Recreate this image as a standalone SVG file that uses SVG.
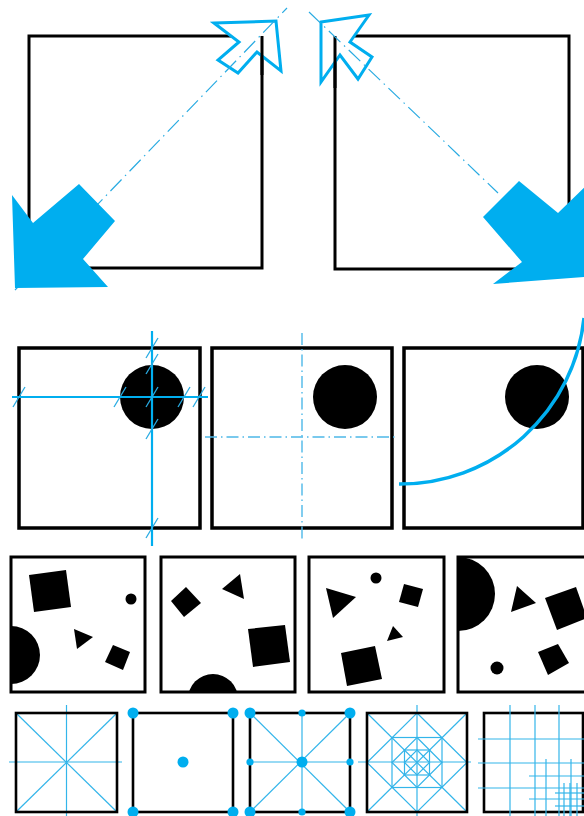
<svg xmlns="http://www.w3.org/2000/svg" width="584" height="816" viewBox="0 0 584 816">
<defs>
<style>
.sq{fill:none;stroke:#000;stroke-width:3}
.sq2{fill:none;stroke:#000;stroke-width:3.5}
.sq4{fill:none;stroke:#000;stroke-width:2.6}
.blk{fill:#000}
.bf{fill:#00AEEF}
.ol{fill:#fff;stroke:#00AEEF;stroke-width:3;stroke-linejoin:miter}
.dd{fill:none;stroke:#29ABE2;stroke-width:1.2;stroke-dasharray:16 5 1.5 5}
.dd2{fill:none;stroke:#4DB8E8;stroke-width:1.4;stroke-dasharray:12 4 1.5 4}
.bl{fill:none;stroke:#00AEEF;stroke-width:2.2}
.tk{fill:none;stroke:#29ABE2;stroke-width:1.3}
.tl{fill:none;stroke:#33B5EA;stroke-width:1.2}
.cv{fill:none;stroke:#00AEEF;stroke-width:3.5}
</style>
<clipPath id="c31"><rect x="11" y="557" width="134" height="135"/></clipPath>
<clipPath id="c32"><rect x="161" y="557" width="134" height="135"/></clipPath>
<clipPath id="c34"><rect x="458" y="557" width="134" height="135"/></clipPath>
</defs>
<rect width="584" height="816" fill="#fff"/>

<!-- Top: resize illustrations -->
<g id="top-left">
<rect class="sq" x="29" y="36" width="233" height="232"/>
<polygon class="ol" points="214,23 276,21 281,71 257,52 238,73 218,60 239,42"/>
<line x1="262" y1="36" x2="262" y2="75" stroke="#000" stroke-width="3"/>
<line class="dd" x1="15" y1="290" x2="287" y2="8"/>
<polygon class="bf" points="15,288 12,195 33,223 79,184 115,221 83,259 108,287"/>
</g>
<g id="top-right">
<rect class="sq" x="335" y="36" width="234" height="233"/>
<polygon class="ol" points="321,22 369,15 350,42 372,57 358,79 340,55 321,82"/>
<line x1="335" y1="36" x2="335" y2="88" stroke="#000" stroke-width="3"/>
<line class="dd" x1="309" y1="12" x2="498" y2="193"/>
<polygon class="bf" points="519,181 558,213 592,180 596,276 493,284 522,262 483,217"/>
</g>

<!-- Row 2 -->
<g id="r2-a">
<rect class="sq2" x="19" y="348" width="181" height="180"/>
<circle class="blk" cx="152" cy="397" r="32"/>
<line class="bl" x1="12" y1="397" x2="208" y2="397"/>
<line class="bl" x1="152" y1="331" x2="152" y2="546"/>
<g class="tk">
<line x1="13" y1="407" x2="25" y2="387"/>
<line x1="114" y1="407" x2="126" y2="387"/>
<line x1="146" y1="407" x2="158" y2="387"/>
<line x1="178" y1="407" x2="190" y2="387"/>
<line x1="193" y1="407" x2="205" y2="387"/>
<line x1="146" y1="358" x2="158" y2="338"/>
<line x1="146" y1="374" x2="158" y2="354"/>
<line x1="146" y1="439" x2="158" y2="419"/>
<line x1="146" y1="538" x2="158" y2="518"/>
</g>
</g>
<g id="r2-b">
<rect class="sq2" x="212" y="348" width="180" height="180"/>
<circle class="blk" cx="345" cy="397" r="32"/>
<line class="dd2" x1="205" y1="437" x2="398" y2="437"/>
<line class="dd2" x1="302" y1="333" x2="302" y2="539"/>
</g>
<g id="r2-c">
<rect class="sq2" x="404" y="348" width="179" height="180"/>
<circle class="blk" cx="537" cy="397" r="32"/>
<path class="cv" d="M399,484 A185,185 0 0 0 584,318"/>
</g>

<!-- Row 3 -->
<g id="r3-a">
<g clip-path="url(#c31)">
<circle class="blk" cx="11" cy="655" r="29"/>
</g>
<polygon class="blk" points="29,575 66,570 71,607 34,612"/>
<circle class="blk" cx="131" cy="599" r="5.5"/>
<polygon class="blk" points="74,629 93,637 77,649"/>
<polygon class="blk" points="113,645 130,652 123,670 105,662"/>
<rect class="sq" x="11" y="557" width="134" height="135"/>
</g>
<g id="r3-b">
<g clip-path="url(#c32)">
<circle class="blk" cx="213" cy="699" r="25"/>
</g>
<polygon class="blk" points="171,601 186,587 201,603 184,617"/>
<polygon class="blk" points="222,589 240,574 244,599"/>
<polygon class="blk" points="248,629 285,625 290,662 253,667"/>
<rect class="sq" x="161" y="557" width="134" height="135"/>
</g>
<g id="r3-c">
<circle class="blk" cx="376" cy="578" r="5.5"/>
<polygon class="blk" points="326,588 356,597 333,618"/>
<polygon class="blk" points="404,584 423,589 418,607 399,602"/>
<polygon class="blk" points="393,626 403,637 387,641"/>
<polygon class="blk" points="341,653 375,646 382,679 347,686"/>
<rect class="sq" x="309" y="557" width="135" height="135"/>
</g>
<g id="r3-d">
<g clip-path="url(#c34)">
<circle class="blk" cx="458" cy="594" r="37"/>
</g>
<polygon class="blk" points="517,586 536,603 511,612"/>
<polygon class="blk" points="545,598 576,587 587,618 557,630"/>
<polygon class="blk" points="538,652 558,644 569,663 548,675"/>
<circle class="blk" cx="497" cy="668" r="6.5"/>
<rect class="sq" x="458" y="557" width="134" height="135"/>
</g>

<!-- Row 4 -->
<g id="r4-a">
<g class="tl">
<line x1="16" y1="713" x2="117" y2="812"/>
<line x1="117" y1="713" x2="16" y2="812"/>
<line x1="66.5" y1="705" x2="66.5" y2="816"/>
<line x1="9" y1="762" x2="122" y2="762"/>
</g>
<rect class="sq4" x="16" y="713" width="101" height="99"/>
</g>
<g id="r4-b">
<rect class="sq4" x="133" y="713" width="100" height="99"/>
<g class="bf">
<circle cx="133" cy="713" r="5.5"/>
<circle cx="233" cy="713" r="5.5"/>
<circle cx="133" cy="812" r="5.5"/>
<circle cx="233" cy="812" r="5.5"/>
<circle cx="183" cy="762" r="5.5"/>
</g>
</g>
<g id="r4-c">
<g class="tl">
<line x1="250" y1="713" x2="350" y2="812"/>
<line x1="350" y1="713" x2="250" y2="812"/>
<line x1="302" y1="713" x2="302" y2="812"/>
<line x1="250" y1="762" x2="350" y2="762"/>
</g>
<rect class="sq4" x="250" y="713" width="100" height="99"/>
<g class="bf">
<circle cx="250" cy="713" r="5.5"/>
<circle cx="350" cy="713" r="5.5"/>
<circle cx="250" cy="812" r="5.5"/>
<circle cx="350" cy="812" r="5.5"/>
<circle cx="302" cy="762" r="5.5"/>
<circle cx="302" cy="713" r="3.6"/>
<circle cx="250" cy="762" r="3.6"/>
<circle cx="350" cy="762" r="3.6"/>
<circle cx="302" cy="812" r="3.6"/>
</g>
</g>
<g id="r4-d">
<g class="tl">
<line x1="367" y1="713" x2="467" y2="812"/>
<line x1="467" y1="713" x2="367" y2="812"/>
<line x1="417" y1="705" x2="417" y2="816"/>
<line x1="358" y1="762" x2="471" y2="762"/>
<polygon points="417,713 467,762.5 417,812 367,762.5"/>
<rect x="392" y="737.5" width="50" height="50"/>
<polygon points="417,737.5 442,762.5 417,787.5 392,762.5"/>
<rect x="404.5" y="750" width="25" height="25"/>
<polygon points="417,750 429.5,762.5 417,775 404.5,762.5"/>
</g>
<rect class="sq4" x="367" y="713" width="100" height="99"/>
</g>
<g id="r4-e">
<rect class="sq4" x="484" y="713" width="99" height="99"/>
<g class="tl">
<line x1="510" y1="705" x2="510" y2="816"/>
<line x1="535" y1="705" x2="535" y2="816"/>
<line x1="559" y1="705" x2="559" y2="816"/>
<line x1="478" y1="739" x2="584" y2="739"/>
<line x1="478" y1="763" x2="584" y2="763"/>
<line x1="478" y1="788" x2="584" y2="788"/>
<line x1="546" y1="759" x2="546" y2="816"/>
<line x1="571" y1="759" x2="571" y2="816"/>
<line x1="529" y1="776" x2="584" y2="776"/>
<line x1="529" y1="799" x2="584" y2="799"/>
<line x1="564" y1="783" x2="564" y2="816"/>
<line x1="570" y1="783" x2="570" y2="816"/>
<line x1="577" y1="783" x2="577" y2="816"/>
<line x1="555" y1="793" x2="584" y2="793"/>
<line x1="555" y1="806" x2="584" y2="806"/>
</g>
</g>
<g id="connectors"></g>
</svg>
